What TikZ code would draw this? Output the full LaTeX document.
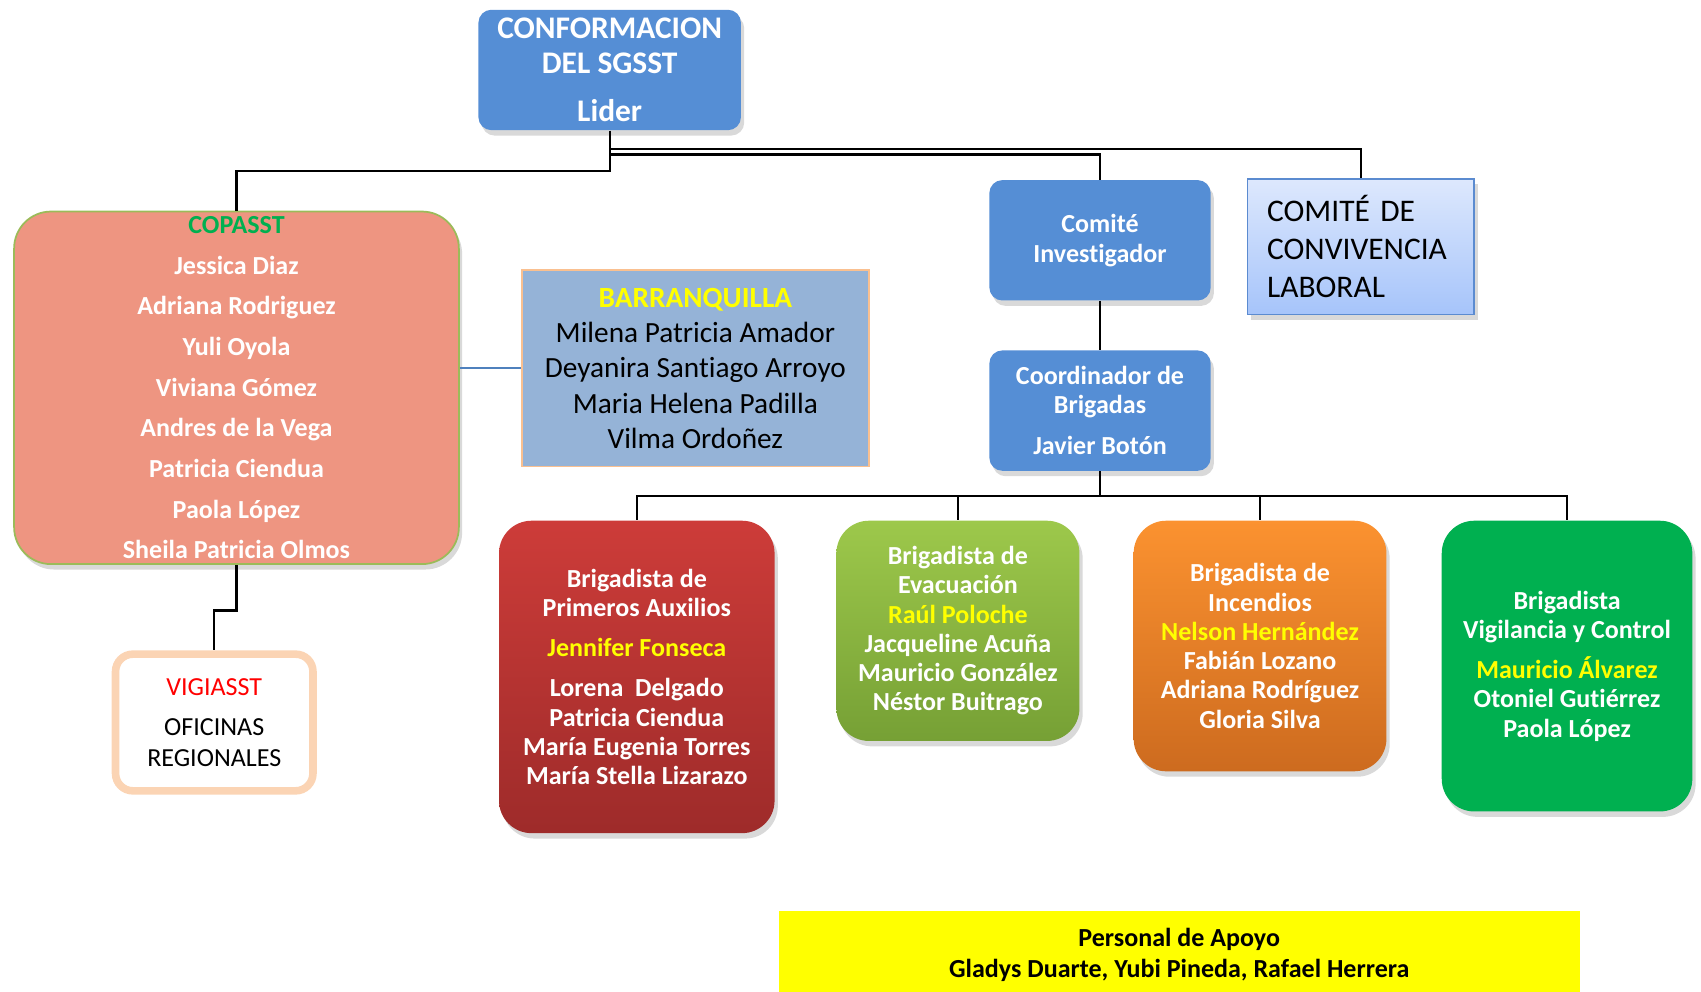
\documentclass[tikz,border=0pt]{standalone}
\usepackage{fontspec}
\setmainfont{Carlito}[Ligatures={NoCommon}]
\usetikzlibrary{shadows}
\definecolor{boxblue}{HTML}{558ED5}
\definecolor{salmon}{HTML}{EE9581}
\definecolor{olivegreen}{HTML}{9BBB59}
\definecolor{titlegreen}{HTML}{00B050}
\definecolor{barrblue}{HTML}{95B3D7}
\definecolor{peach}{HTML}{FAC090}
\definecolor{lightpeach}{HTML}{FBD4B4}
\definecolor{linkblue}{HTML}{4F81BD}
\definecolor{cclborder}{HTML}{5B8BD0}
\definecolor{ccltop}{HTML}{DDE8FD}
\definecolor{cclbot}{HTML}{A6C4FA}
\definecolor{redtop}{HTML}{CD3C39}
\definecolor{redbot}{HTML}{9E2B2A}
\definecolor{lgtop}{HTML}{9DC84B}
\definecolor{lgbot}{HTML}{76A035}
\definecolor{ortop}{HTML}{FB9230}
\definecolor{orbot}{HTML}{CD6B1F}
\definecolor{dgreen}{HTML}{00B050}
\definecolor{hiyellow}{HTML}{FFFF00}
\definecolor{vred}{HTML}{FF0000}
\begin{document}
\begin{tikzpicture}[x=0.5pt,y=-0.5pt,
  shade/.style={drop shadow={opacity=0.3,shadow xshift=1.5pt,shadow yshift=-2.5pt}},
  bluebox/.style={fill=boxblue, rounded corners=6pt, align=center, inner sep=0pt, text=white, shade},
  brig/.style={rounded corners=15pt, align=center, inner sep=0pt, text=white, shade,
     font=\fontsize{12}{13.5}\selectfont\bfseries},
  conn/.style={draw=black, line width=1pt},
  hi/.style={text=hiyellow}
]
\useasboundingbox (0,0) rectangle (1568,914.4);

% top
\node[bluebox, minimum width=121pt, minimum height=55.5pt,
  font=\fontsize{14.5}{16}\selectfont\bfseries] (lider) at (562,64.5)
  {CONFORMACION\\DEL SGSST\\[6.5pt]Lider};

\node[bluebox, minimum width=102pt, minimum height=55.5pt,
  font=\fontsize{12}{14}\selectfont\bfseries] (inv) at (1014,221.5)
  {Comité\\Investigador};

\node[bluebox, minimum width=102pt, minimum height=55.5pt,
  font=\fontsize{12}{13.5}\selectfont\bfseries] (coord) at (1014,378.5)
  {Coordinador de\\Brigadas\\[5.5pt]Javier Botón};

\node[draw=cclborder, line width=0.8pt, top color=ccltop, bottom color=cclbot,
  minimum height=62.5pt, text width=86.5pt, inner xsep=9pt, inner ysep=1pt, align=left,
  font=\fontsize{14.5}{17.5}\selectfont, shade] (ccl) at (1254.5,227.5)
  {COMITÉ DE\\CONVIVENCIA\\LABORAL};

% COPASST
\node[fill=salmon, draw=olivegreen, line width=0.8pt, rounded corners=17pt,
  minimum width=205pt, minimum height=162.5pt, inner sep=0pt, align=center,
  text=white, font=\fontsize{12}{18.75}\selectfont\bfseries, shade] (copasst) at (218,357.5)
  {\textcolor{titlegreen}{COPASST}\\Jessica Diaz\\Adriana Rodriguez\\Yuli Oyola\\Viviana Gómez\\Andres de la Vega\\Patricia Ciendua\\Paola López\\Sheila Patricia Olmos};

\node[fill=barrblue, draw=peach, line width=0.8pt, minimum width=160pt,
  minimum height=90.5pt, inner sep=0pt, align=center,
  font=\fontsize{13.5}{16.25}\selectfont] (barr) at (641,339.5)
  {{\bfseries\textcolor{hiyellow}{BARRANQUILLA}}\\Milena Patricia Amador\\Deyanira Santiago Arroyo\\Maria Helena Padilla\\Vilma Ordoñez};

\node[fill=white, draw=lightpeach, line width=3.5pt, rounded corners=8pt,
  minimum width=91pt, minimum height=63pt, inner sep=0pt, align=center,
  font=\fontsize{12}{14}\selectfont] (vigia) at (197.5,666)
  {\textcolor{vred}{VIGIASST}\\[4.5pt]OFICINAS\\REGIONALES};

% brigadistas
\node[brig, top color=redtop, bottom color=redbot, minimum width=127pt, minimum height=144pt]
  (red) at (587,624)
  {Brigadista de\\Primeros Auxilios\\[5pt]\textcolor{hiyellow}{Jennifer Fonseca}\\[5pt]Lorena\ \ Delgado\\Patricia Ciendua\\María Eugenia Torres\\María Stella Lizarazo};

\node[brig, top color=lgtop, bottom color=lgbot, minimum width=112pt, minimum height=101.5pt]
  (lgreen) at (883,581.5)
  {Brigadista de\\Evacuación\\\textcolor{hiyellow}{Raúl Poloche}\\Jacqueline Acuña\\Mauricio González\\Néstor Buitrago};

\node[brig, top color=ortop, bottom color=orbot, minimum width=116.5pt, minimum height=115.5pt]
  (orange) at (1161.5,595.5)
  {Brigadista de\\Incendios\\\textcolor{hiyellow}{Nelson Hernández}\\Fabián Lozano\\Adriana Rodríguez\\Gloria Silva};

\node[brig, fill=dgreen, minimum width=115.5pt, minimum height=134pt]
  (dgreen) at (1444.5,614)
  {Brigadista\\Vigilancia y Control\\[5pt]\textcolor{hiyellow}{Mauricio Álvarez}\\Otoniel Gutiérrez\\Paola López};

% support staff
\node[fill=hiyellow, minimum width=369pt, minimum height=37.2pt, inner sep=0pt,
  align=center, font=\fontsize{12}{14.5}\selectfont\bfseries] (apoyo) at (1087,877.2)
  {\\[-3pt]Personal de Apoyo\\Gladys Duarte, Yubi Pineda, Rafael Herrera};

% connectors
\draw[conn] (lider.south) -- ++(0,37) -| (copasst.north);
\draw[conn] (lider.south) ++(0,17) -| (ccl.north);
\draw[conn] (lider.south) ++(0,22) -| (inv.north);
\draw[conn] (inv.south) -- (coord.north);
\draw[conn] (coord.south) -- ++(0,23) -| (red.north);
\draw[conn] (coord.south) ++(0,23) -| (lgreen.north);
\draw[conn] (coord.south) ++(0,23) -| (orange.north);
\draw[conn] (coord.south) ++(0,23) -| (dgreen.north);
\draw[draw=linkblue, line width=1pt] (copasst.east |- barr.west) -- (barr.west);
\draw[conn] (copasst.south) -- ++(0,42) -| (vigia.north);
\end{tikzpicture}
\end{document}
